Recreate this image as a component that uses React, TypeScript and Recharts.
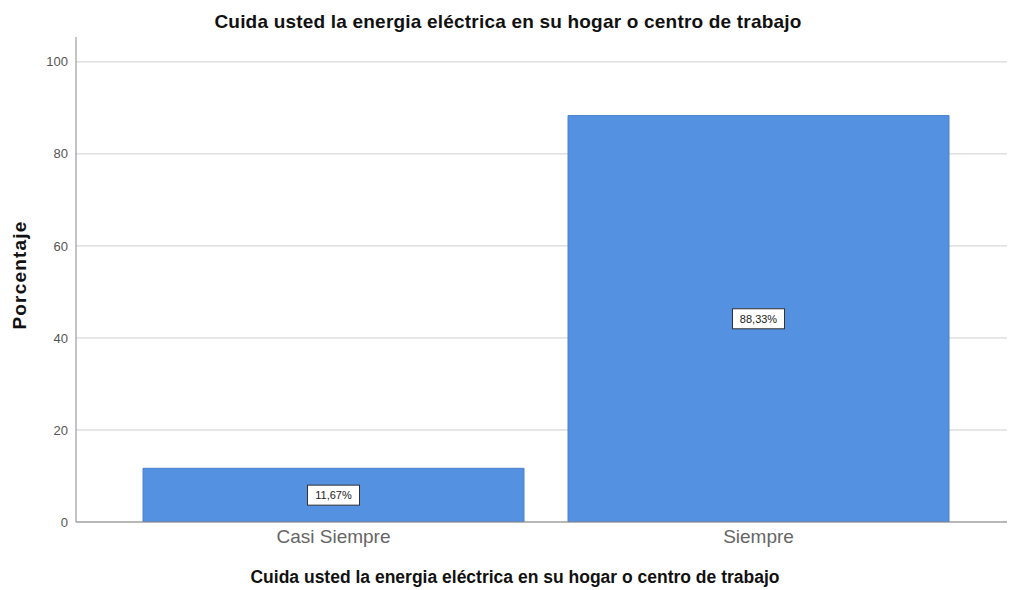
import React from 'react';
import { BarChart, Bar, XAxis, YAxis, CartesianGrid, LabelList } from 'recharts';

const categories = ['Casi Siempre', 'Siempre'];
const percentages = [11.67, 88.33];
const yTicks = [0, 20, 40, 60, 80, 100];

const data = categories.map((name, i) => ({ name, value: percentages[i] }));

const TITLE = 'Cuida usted la energia eléctrica en su hogar o centro de trabajo';

const BoxLabel = (props: any) => {
    const { x, y, width, height, value } = props;
    const cx = x + width / 2;
    const cy = y + height / 2;
    const text = value.toFixed(2).replace('.', ',') + '%';
    return (
        <g>
            <rect x={cx - 26} y={cy - 10} width={52} height={20} fill="#fff" stroke="#333" strokeWidth={1} />
            <text x={cx} y={cy + 4} textAnchor="middle" fontSize={11} fill="#222" fontFamily="Liberation Sans, Arial">
                {text}
            </text>
        </g>
    );
};

const App = () => {
    return (
        <div style={{ position: 'absolute', left: 0, top: 0, width: 1009, height: 590, background: '#fff', fontFamily: 'Liberation Sans, Arial, sans-serif' }}>
            <div style={{ position: 'absolute', top: 10, left: 0, width: 1016, textAlign: 'center', fontWeight: 'bold', fontSize: 19, color: '#111', lineHeight: '24px', letterSpacing: 0.2 }}>
                {TITLE}
            </div>
            <div
                style={{
                    position: 'absolute',
                    left: 20,
                    top: 275,
                    transform: 'translate(-50%, -50%) rotate(-90deg)',
                    fontWeight: 'bold',
                    fontSize: 19,
                    letterSpacing: 1.2,
                    color: '#111',
                    whiteSpace: 'nowrap',
                }}>
                Porcentaje
            </div>
            <div style={{ position: 'absolute', top: 566, left: 0, width: 1030, textAlign: 'center', fontWeight: 'bold', fontSize: 17.5, color: '#111', lineHeight: '22px' }}>
                {TITLE}
            </div>
            <BarChart
                width={1009}
                height={590}
                data={data}
                barSize={381}
                margin={{ top: 37, right: 2, left: 18, bottom: 38 }}>
                <CartesianGrid vertical={false} horizontalValues={yTicks} stroke="#cfcfcf" />
                <XAxis
                    dataKey="name"
                    padding={{ left: 45, right: 36 }}
                    height={30}
                    tickLine={false}
                    axisLine={{ stroke: '#888' }}
                    tick={{ fontSize: 19, fill: '#666' }}
                />
                <YAxis
                    width={58}
                    domain={[0, 105.4]}
                    ticks={yTicks}
                    allowDataOverflow
                    tickLine={false}
                    axisLine={{ stroke: '#888' }}
                    tick={{ fontSize: 13, fill: '#555' }}
                />
                <Bar dataKey="value" fill="#5591e1" stroke="#4a82cc" isAnimationActive={false}>
                    <LabelList dataKey="value" content={<BoxLabel />} />
                </Bar>
            </BarChart>
        </div>
    );
};

export default App;
